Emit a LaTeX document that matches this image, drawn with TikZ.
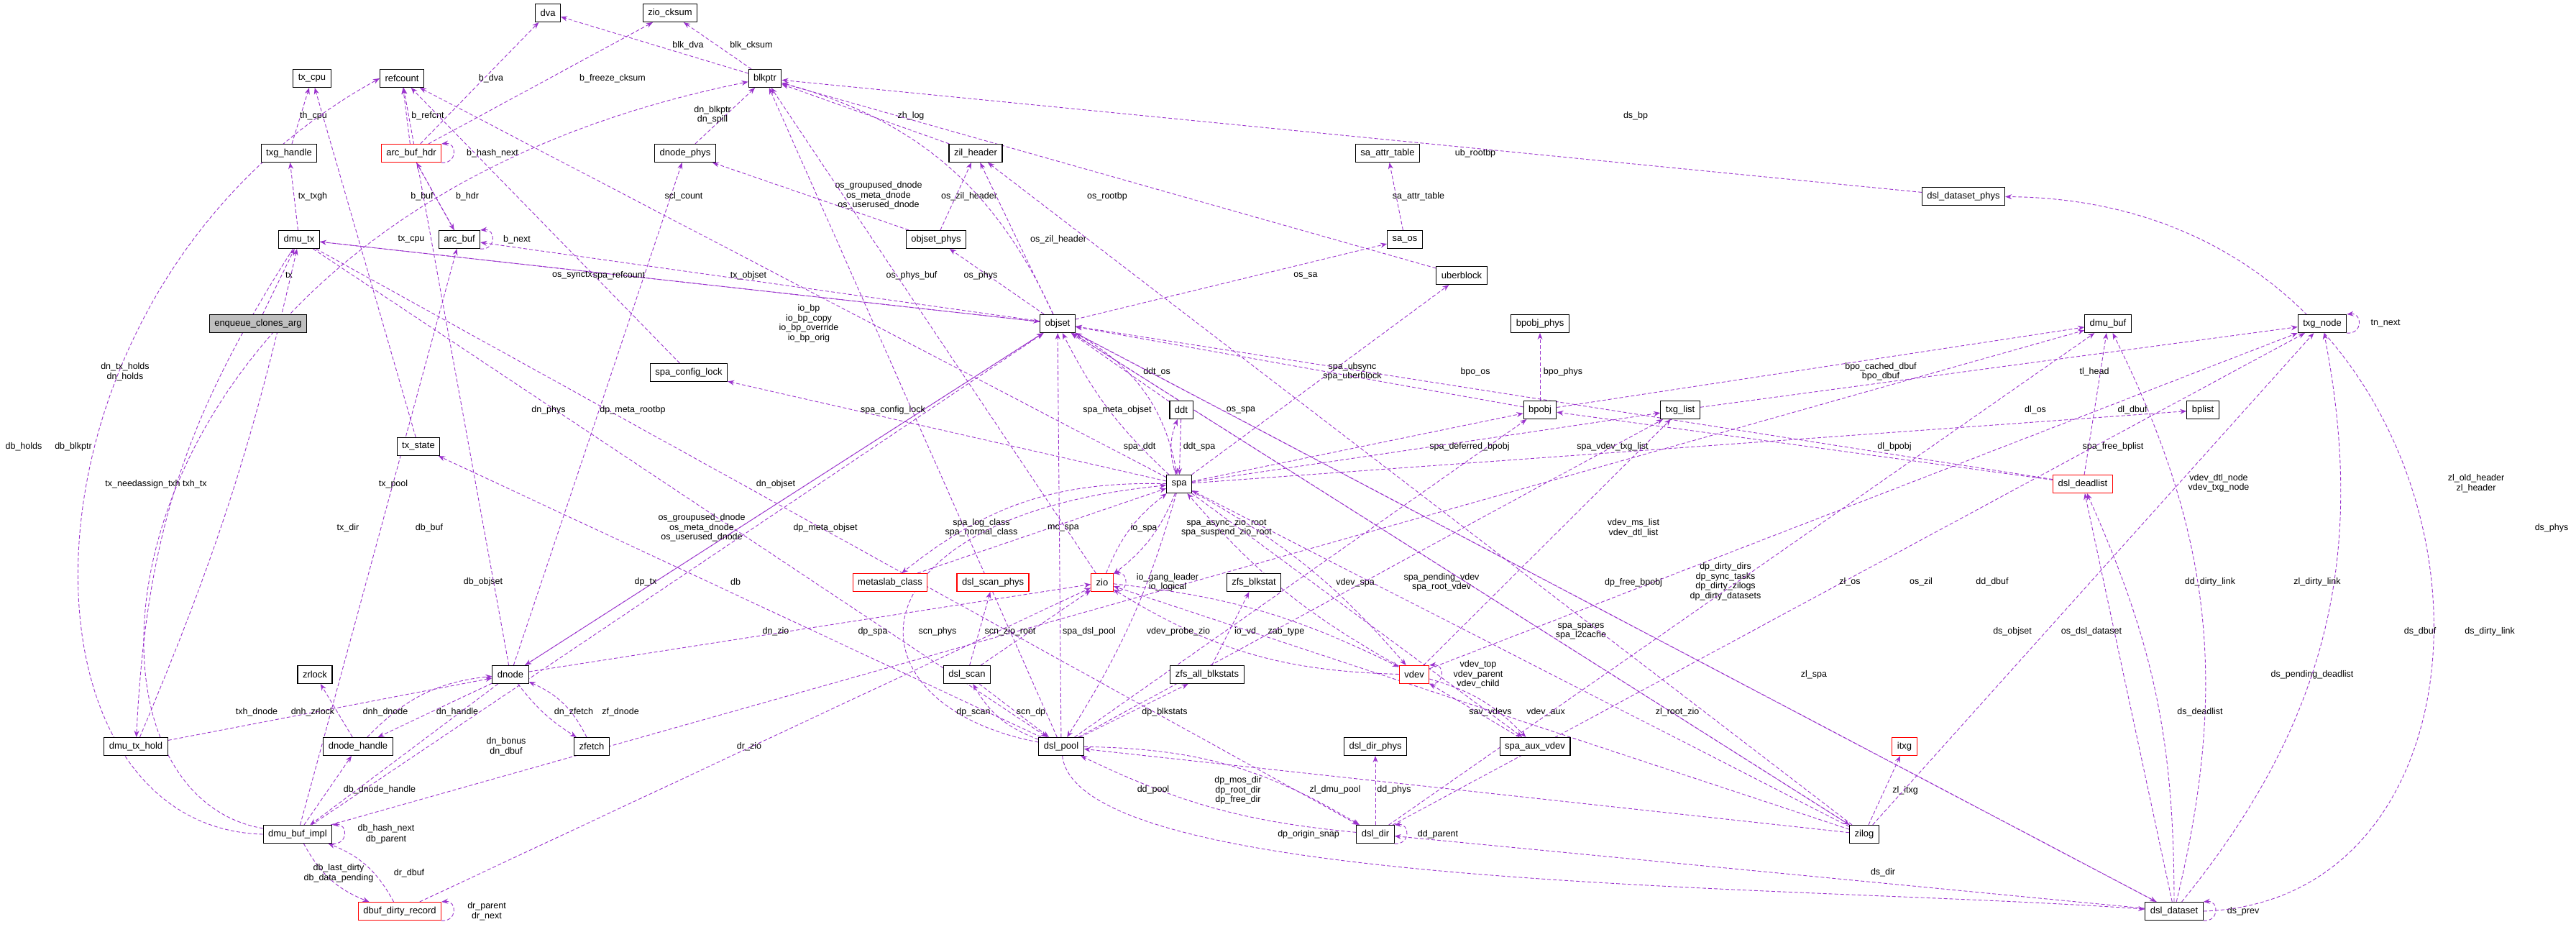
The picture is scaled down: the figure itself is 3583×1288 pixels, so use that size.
\documentclass[tikz,border=0pt]{standalone}
\usepackage{fontspec}
\setmainfont{Liberation Sans}
\usetikzlibrary{arrows.meta}
\definecolor{ec}{RGB}{154,50,205}
\pgfdeclarelayer{bg}
\pgfsetlayers{bg,main}
\newcommand\edg[4]{\draw[e] (#1) -- (#2) node[lab] at (#3) {#4};}
\newcommand\slf[3]{\draw[e] (#1.south east) .. controls +(22,2) and +(22,-2) .. (#1.north east) node[lab] at (#2) {#3};}
\begin{document}
\begin{tikzpicture}[x=1pt,y=-1pt,
 box/.style={draw=black,line width=1.1pt,fill=white,minimum height=25pt,inner xsep=7pt,font=\fontsize{13}{14}\selectfont},
 red/.style={box,draw=red},
 e/.style={draw=ec,dashed,line width=0.9pt,dash pattern=on 5pt off 3pt,-{Stealth[length=9pt,width=7pt]}},
 lab/.style={font=\fontsize{12.5}{13.5}\selectfont,align=center,inner sep=0pt}]
\useasboundingbox (0,0) rectangle (3583,1288);
% nodes
\node[box] (dva) at (762,18) {dva};
\node[box] (zck) at (932,18) {zio\_cksum};
\node[box] (txcpu) at (434,109) {tx\_cpu};
\node[box] (refc) at (559,109) {refcount};
\node[box] (blkptr) at (1064,109) {blkptr};
\node[box] (txgh) at (402,213) {txg\_handle};
\node[red] (abh) at (572,213) {arc\_buf\_hdr};
\node[box] (dnphys) at (953,213) {dnode\_phys};
\node[box] (zilh) at (1357,213) {zil\_header};
\node[box] (saat) at (1930,213) {sa\_attr\_table};
\node[box] (dmutx) at (416,333) {dmu\_tx};
\node[box] (arcbuf) at (639,333) {arc\_buf};
\node[box] (osphys) at (1302,333) {objset\_phys};
\node[box] (saos) at (1954,333) {sa\_os};
\node[box] (ub) at (2033,383) {uberblock};
\node[box] (dsphys) at (2731,273) {dsl\_dataset\_phys};
\node[box,fill=black!25] (enq) at (359,450) {enqueue\_clones\_arg};
\node[box] (objset) at (1471,450) {objset};
\node[box] (bpophys) at (2142,450) {bpobj\_phys};
\node[box] (dmubuf) at (2932,450) {dmu\_buf};
\node[box] (txgnode) at (3230,450) {txg\_node};
\node[box] (scl) at (958,518) {spa\_config\_lock};
\node[box] (ddt) at (1643,570) {ddt};
\node[box] (bpobj) at (2142,570) {bpobj};
\node[box] (txglist) at (2337,570) {txg\_list};
\node[box] (bplist) at (3064,570) {bplist};
\node[box] (txstate) at (582,621) {tx\_state};
\node[box] (spa) at (1640,673) {spa};
\node[red] (deadl) at (2897,673) {dsl\_deadlist};
\node[red] (mclass) at (1238,810) {metaslab\_class};
\node[red] (scphys) at (1381,810) {dsl\_scan\_phys};
\node[red] (zio) at (1533,810) {zio};
\node[box] (blkstat) at (1744,810) {zfs\_blkstat};
\node[box] (zrlock) at (438,938) {zrlock};
\node[box] (dnode) at (710,938) {dnode};
\node[box] (dscan) at (1345,938) {dsl\_scan};
\node[box] (allblk) at (1679,938) {zfs\_all\_blkstats};
\node[red] (vdev) at (1967,938) {vdev};
\node[box] (txhold) at (189,1038) {dmu\_tx\_hold};
\node[box] (dnh) at (498,1038) {dnode\_handle};
\node[box] (zfetch) at (823,1038) {zfetch};
\node[box] (dpool) at (1476,1038) {dsl\_pool};
\node[box] (ddphys) at (1913,1038) {dsl\_dir\_phys};
\node[box] (aux) at (2135,1038) {spa\_aux\_vdev};
\node[red] (itxg) at (2649,1038) {itxg};
\node[box] (dbi) at (414,1160) {dmu\_buf\_impl};
\node[box] (ddir) at (1913,1160) {dsl\_dir};
\node[box] (zilog) at (2593,1160) {zilog};
\node[red] (ddr) at (556,1267) {dbuf\_dirty\_record};
\node[box] (dsds) at (3024,1267) {dsl\_dataset};
\begin{pgfonlayer}{bg}
\fill[white] (0,0) rectangle (3583,1288);
\edg{blkptr}{dva}{957,63}{blk\_dva}
\edg{blkptr}{zck}{1045,63}{blk\_cksum}
\edg{abh}{dva}{683,109}{b\_dva}
\edg{abh}{zck}{852,109}{b\_freeze\_cksum}
\edg{abh}{refc}{595,161}{b\_refcnt}
\slf{abh}{685,213}{b\_hash\_next}
\edg{abh}{arcbuf}{587,273}{b\_buf}
\edg{arcbuf}{abh}{650,273}{b\_hdr}
\slf{arcbuf}{719,333}{b\_next}
\edg{txgh}{txcpu}{436,161}{th\_cpu}
\edg{txstate}{txcpu}{572,333}{tx\_cpu}
\edg{dmutx}{txgh}{435,273}{tx\_txgh}
\edg{enq}{dmutx}{402,383}{tx}
\draw[e] (dmutx) to[bend right=15] (txhold);
\draw[e] (txhold) to[bend right=5] (dmutx);
\node[lab] at (217,673) {tx\_needassign\_txh txh\_tx};
\edg{dmutx}{dpool}{547,673}{tx\_pool}
\edg{dmutx}{ddir}{484,734}{tx\_dir}
\edg{dmutx}{objset}{1041,383}{tx\_objset}
\draw[e] (dbi.west) .. controls (0,1150) and (0,400) .. (refc.west) node[lab] at (33,621) {db\_holds};
\draw[e] (dbi) .. controls (60,1100) and (120,300) .. (blkptr) node[lab] at (102,621) {db\_blkptr};
\edg{dbi}{arcbuf}{597,734}{db\_buf}
\edg{dbi}{objset}{672,809}{db\_objset}
\edg{dbi}{dmubuf}{1023,809}{db}
\edg{dbi}{dnh}{528,1098}{db\_dnode\_handle}
\draw[e] (dbi.south east) .. controls +(22,2) and +(22,-2) .. (dbi.north east) node[lab] at (537,1152) {db\_hash\_next} node[lab] at (537,1167) {db\_parent};
\draw[e] (dbi) to[bend right=20] (ddr) node[lab] at (471,1214) {db\_last\_dirty\\db\_data\_pending};
\draw[e] (ddr) to[bend right=20] (dbi) node[lab] at (569,1214) {dr\_dbuf};
\edg{ddr}{zio}{1042,1038}{dr\_zio}
\draw[e] (ddr.south east) .. controls +(22,2) and +(22,-2) .. (ddr.north east) node[lab] at (677,1260) {dr\_parent} node[lab] at (677,1274) {dr\_next};
\edg{txhold}{dnode}{357,990}{txh\_dnode}
\edg{dnh}{zrlock}{435,990}{dnh\_zrlock}
\draw[e] (dnh) to[bend left=20] (dnode) node[lab] at (536,990) {dnh\_dnode};
\edg{dnode}{dnh}{636,990}{dn\_handle}
\draw[e] (dnode) to[bend right=10] (zfetch) node[lab] at (798,990) {dn\_zfetch};
\draw[e] (zfetch) to[bend right=20] (dnode) node[lab] at (863,990) {zf\_dnode};
\edg{dnode}{dbi}{704,1038}{dn\_bonus\\dn\_dbuf}
\edg{dnode}{dnphys}{763,570}{dn\_phys}
\edg{dnode}{objset}{1079,673}{dn\_objset}
\edg{dnode}{zio}{1079,878}{dn\_zio}
\edg{dnode}{refc}{174,517}{dn\_tx\_holds\\dn\_holds}
\edg{dnphys}{blkptr}{991,160}{dn\_blkptr\\dn\_spill}
\edg{objset}{dnode}{976,734}{os\_groupused\_dnode\\os\_meta\_dnode\\os\_userused\_dnode}
\edg{osphys}{dnphys}{1222,272}{os\_groupused\_dnode\\os\_meta\_dnode\\os\_userused\_dnode}
\edg{osphys}{zilh}{1348,273}{os\_zil\_header}
\edg{objset}{zilh}{1472,333}{os\_zil\_header}
\draw[e] (objset) to[bend right=25] (blkptr) node[lab] at (1540,273) {os\_rootbp};
\edg{objset}{osphys}{1364,383}{os\_phys}
\edg{objset}{arcbuf}{1268,383}{os\_phys\_buf}
\edg{objset}{dmutx}{796,383}{os\_synctx}
\edg{objset}{saos}{1816,383}{os\_sa}
\edg{saos}{saat}{1973,273}{sa\_attr\_table}
\draw[e] (objset) to[bend left=25] (spa) node[lab] at (1726,570) {os\_spa};
\edg{objset}{zilog}{2672,809}{os\_zil}
\edg{objset}{dsds}{2909,878}{os\_dsl\_dataset}
\edg{zilh}{blkptr}{1267,161}{zh\_log}
\edg{spa}{refc}{861,383}{spa\_refcount}
\edg{spa}{scl}{1242,570}{spa\_config\_lock}
\edg{scl}{refc}{951,273}{scl\_count}
\draw[e] (spa) to[bend left=10] (objset) node[lab] at (1554,570) {spa\_meta\_objset};
\draw[e] (spa) to[bend left=20] (ddt) node[lab] at (1585,621) {spa\_ddt};
\edg{ddt}{spa}{1668,621}{ddt\_spa}
\edg{ddt}{objset}{1609,517}{ddt\_os}
\edg{spa}{ub}{1881,517}{spa\_ubsync\\spa\_uberblock}
\edg{ub}{blkptr}{2052,213}{ub\_rootbp}
\edg{spa}{bpobj}{2044,621}{spa\_deferred\_bpobj}
\edg{bpobj}{objset}{2052,517}{bpo\_os}
\edg{bpobj}{bpophys}{2174,517}{bpo\_phys}
\edg{bpobj}{dmubuf}{2616,517}{bpo\_cached\_dbuf\\bpo\_dbuf}
\edg{spa}{txglist}{2243,621}{spa\_vdev\_txg\_list}
\edg{txglist}{txgnode}{2913,517}{tl\_head}
\slf{txgnode}{3318,450}{tn\_next}
\edg{spa}{bplist}{2939,621}{spa\_free\_bplist}
\edg{deadl}{objset}{2831,570}{dl\_os}
\edg{deadl}{dmubuf}{2966,570}{dl\_dbuf}
\edg{deadl}{bpobj}{2635,621}{dl\_bpobj}
\draw[e] (spa) to[bend right=20] (mclass) node[lab] at (1365,734) {spa\_log\_class\\spa\_normal\_class};
\edg{mclass}{spa}{1479,734}{mc\_spa}
\draw[e] (zio) to[bend left=15] (spa) node[lab] at (1591,734) {io\_spa};
\draw[e] (spa) to[bend left=15] (zio) node[lab] at (1706,734) {spa\_async\_zio\_root\\spa\_suspend\_zio\_root};
\slf{zio}{1624,810}{io\_gang\_leader\\io\_logical}
\edg{zio}{blkptr}{1125,450}{io\_bp\\io\_bp\_copy\\io\_bp\_override\\io\_bp\_orig}
\draw[e] (zio) to[bend left=10] (vdev) node[lab] at (1732,878) {io\_vd};
\draw[e] (vdev) to[bend left=15] (zio) node[lab] at (1639,878) {vdev\_probe\_zio};
\draw[e] (vdev) to[bend left=10] (spa) node[lab] at (1885,810) {vdev\_spa};
\draw[e] (spa) to[bend left=10] (vdev) node[lab] at (2005,810) {spa\_pending\_vdev\\spa\_root\_vdev};
\slf{vdev}{2056,938}{vdev\_top\\vdev\_parent\\vdev\_child}
\edg{vdev}{txglist}{2272,734}{vdev\_ms\_list\\vdev\_dtl\_list}
\edg{vdev}{txgnode}{3086,672}{vdev\_dtl\_node\\vdev\_txg\_node}
\edg{spa}{aux}{2199,878}{spa\_spares\\spa\_l2cache}
\edg{aux}{vdev}{2073,990}{sav\_vdevs}
\draw[e] (vdev) to[bend left=15] (aux) node[lab] at (2150,990) {vdev\_aux};
\draw[e] (spa) to[bend left=8] (dpool) node[lab] at (1515,878) {spa\_dsl\_pool};
\draw[e] (dpool) .. controls (1170,980) and (1170,720) .. (spa) node[lab] at (1214,878) {dp\_spa};
\edg{dscan}{scphys}{1304,878}{scn\_phys}
\edg{dscan}{zio}{1405,878}{scn\_zio\_root}
\draw[e] (dpool) to[bend left=20] (dscan) node[lab] at (1354,990) {dp\_scan};
\edg{dscan}{dpool}{1434,990}{scn\_dp}
\edg{allblk}{blkstat}{1789,878}{zab\_type}
\edg{dpool}{allblk}{1620,990}{dp\_blkstats}
\edg{dpool}{objset}{1148,734}{dp\_meta\_objset}
\edg{dpool}{blkptr}{880,570}{dp\_meta\_rootbp}
\edg{dpool}{txstate}{898,809}{dp\_tx}
\edg{dpool}{bpobj}{2272,810}{dp\_free\_bpobj}
\edg{dpool}{txglist}{2400,809}{dp\_dirty\_dirs\\dp\_sync\_tasks\\dp\_dirty\_zilogs\\dp\_dirty\_datasets}
\draw[e] (dpool) to[bend left=15] (ddir) node[lab] at (1722,1099) {dp\_mos\_dir\\dp\_root\_dir\\dp\_free\_dir};
\draw[e] (dpool) .. controls (1500,1240) and (2500,1230) .. (dsds) node[lab] at (1820,1160) {dp\_origin\_snap};
\draw[e] (ddir) to[bend left=10] (dpool) node[lab] at (1604,1098) {dd\_pool};
\edg{ddir}{ddphys}{1939,1098}{dd\_phys}
\slf{ddir}{2000,1160}{dd\_parent}
\edg{ddir}{dmubuf}{2771,809}{dd\_dbuf}
\edg{ddir}{txgnode}{3074,809}{dd\_dirty\_link}
\edg{zilog}{dpool}{1857,1098}{zl\_dmu\_pool}
\edg{zilog}{objset}{2573,809}{zl\_os}
\edg{zilog}{spa}{2523,938}{zl\_spa}
\edg{zilog}{zio}{2333,990}{zl\_root\_zio}
\edg{zilog}{itxg}{2650,1099}{zl\_itxg}
\edg{zilog}{zilh}{3444,672}{zl\_old\_header\\zl\_header}
\edg{zilog}{txgnode}{3223,809}{zl\_dirty\_link}
\edg{dsds}{ddir}{2619,1213}{ds\_dir}
\slf{dsds}{3120,1267}{ds\_prev}
\edg{dsds}{objset}{2799,878}{ds\_objset}
\edg{dsds}{deadl}{3060,990}{ds\_deadlist}
\draw[e] (dsds) to[bend right=12] (deadl);
\node[lab] at (3216,938) {ds\_pending\_deadlist};
\draw[e] (dsds) to[bend right=20] (dmubuf) node[lab] at (3366,878) {ds\_dbuf};
\draw[e] (dsds) to[bend right=25] (txgnode) node[lab] at (3463,878) {ds\_dirty\_link};
\draw[e] (dsds.east) .. controls (3560,1250) and (3490,280) .. (dsphys);
\node[lab] at (3549,734) {ds\_phys};
\edg{dsphys}{blkptr}{2275,161}{ds\_bp}
\end{pgfonlayer}
\end{tikzpicture}
\end{document}
